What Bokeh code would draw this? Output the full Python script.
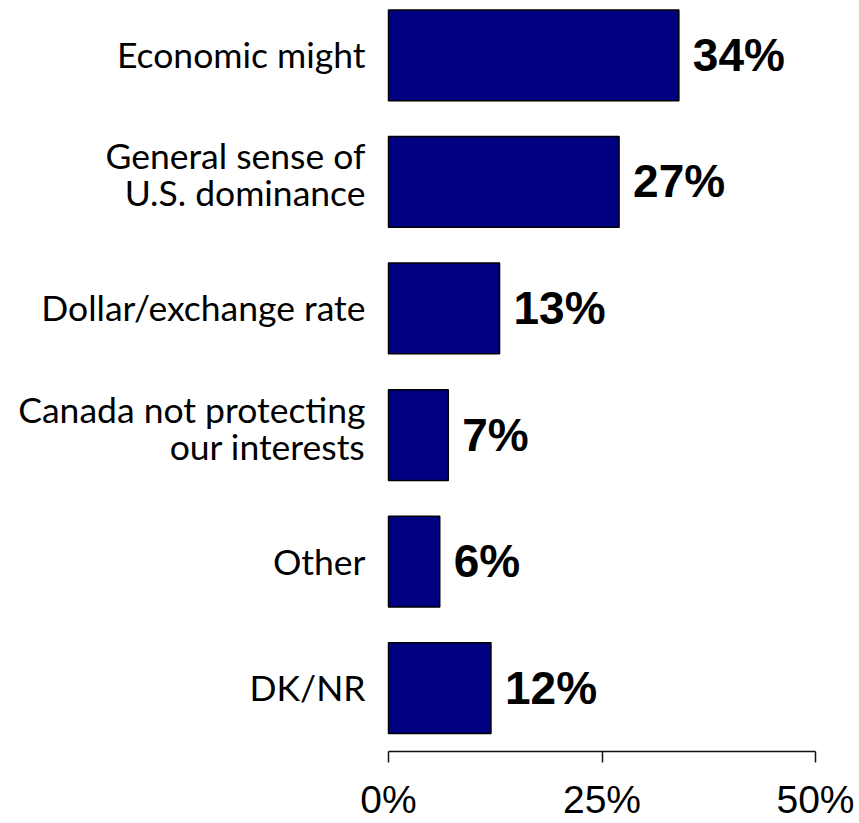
from bokeh.plotting import figure
from bokeh.models import Range1d, FixedTicker, ColumnDataSource, LabelSet
from bokeh.core.properties import value
from bokeh.embed import file_html
from bokeh.resources import INLINE

# ---- data ----
categories = ["Economic might", "General sense of\nU.S. dominance", "Dollar/exchange rate",
              "Canada not protecting\nour interests", "Other", "DK/NR"]
values = [34, 27, 13, 7, 6, 12]
value_labels = ["34%", "27%", "13%", "7%", "6%", "12%"]
tick_values = [0, 25, 50]
tick_labels = ["0%", "25%", "50%"]

n = len(categories)
ypos = [n - 1 - i for i in range(n)]

# frame covers the whole width; the axis is bounded to 0..50
W = 859
left_px, right_px = 388, 815
ppu = (right_px - left_px) / 50.0
p = figure(width=W, height=823, output_backend="svg", toolbar_location=None,
           x_range=Range1d(-left_px / ppu, 50 + (W - right_px) / ppu),
           y_range=Range1d(-0.5, 5.37),
           min_border_left=0, min_border_right=0, min_border_top=8, min_border_bottom=0)
p.outline_line_color = None
p.xgrid.visible = False
p.ygrid.visible = False
p.yaxis.visible = False
p.background_fill_color = "white"
p.border_fill_color = "white"

bars = ColumnDataSource(dict(y=ypos, v=values, lab=value_labels))
p.hbar(y="y", left=0, right="v", height=0.717, source=bars,
       fill_color="#000080", line_color="black", line_width=1.5)

vl = LabelSet(x="v", y="y", text="lab", source=bars, x_offset=14, y_offset=-15.5,
              text_font=value("Liberation Sans"), text_font_style="bold", text_font_size="46px",
              text_color="black", text_align="left", text_baseline="alphabetic")
p.add_layout(vl)

# category labels, one entry per text line
lx, ly, lt, loff = [], [], [], []
for cat, yy in zip(categories, ypos):
    lines = cat.split("\n")
    base = 13 if len(lines) == 1 else -12.5
    for k, ln in enumerate(lines):
        lx.append(0)
        ly.append(yy)
        lt.append(ln)
        loff.append(-(base + k * 37))
cat_src = ColumnDataSource(dict(x=lx, y=ly, t=lt, off=loff))
cl = LabelSet(x="x", y="y", text="t", source=cat_src, x_offset=-23, y_offset="off",
              text_font=value("Lato"), text_font_size="35.5px", text_color="black",
              text_align="right", text_baseline="alphabetic")
p.add_layout(cl)

ax = p.xaxis[0]
ax.bounds = (tick_values[0], tick_values[-1])
ax.ticker = FixedTicker(ticks=tick_values)
ax.major_label_overrides = {t: l for t, l in zip(tick_values, tick_labels)}
ax.major_tick_out = 11
ax.major_tick_in = 0
ax.minor_tick_line_color = None
ax.axis_line_width = 1.5
ax.major_tick_line_width = 1.5
ax.axis_line_color = "#111111"
ax.major_tick_line_color = "#111111"
ax.major_label_standoff = 15
ax.major_label_text_font = "Liberation Sans"
ax.major_label_text_font_size = "39px"
ax.major_label_text_color = "black"

open("out.html", "w").write(file_html(p, INLINE))
